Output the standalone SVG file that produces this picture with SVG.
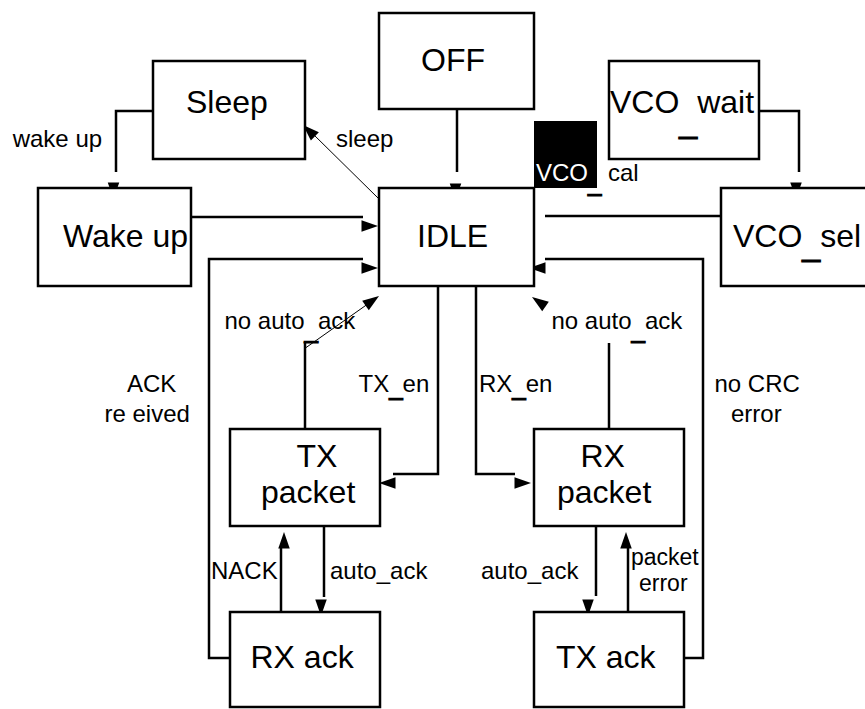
<svg xmlns="http://www.w3.org/2000/svg" width="865" height="709" viewBox="0 0 865 709">
<style>
  .box { fill: #fff; stroke: #000; stroke-width: 2.5; }
  .wire { fill: none; stroke: #000; stroke-width: 2.5; }
  .thin { fill: none; stroke: #000; stroke-width: 1; }
  .big { font-family: "Liberation Sans", Arial, sans-serif; font-size: 32px; fill: #000; }
  .lbl { font-family: "Liberation Sans", Arial, sans-serif; font-size: 24px; fill: #000; }
  .us { stroke: #000; stroke-width: 1.2; }
  .ah { fill: #000; }
</style>
<defs>
  <path id="ah" class="ah" d="M0,0 L-16.5,-5.75 L-16.5,5.75 Z"/>
</defs>
<rect width="865" height="709" fill="#fff"/>

<g id="connectors">
  <g id="e-sleep-wakeup">
    <polyline class="wire" points="153,111 116,111 116,172"/>
    <use href="#ah" transform="translate(113.5,199) rotate(90)"/>
    <text class="lbl" x="12.7" y="147">wake up</text>
  </g>
  <g id="e-idle-sleep">
    <line class="thin" x1="378" y1="198" x2="312" y2="133"/>
    <use href="#ah" transform="translate(303,125) rotate(224)"/>
    <text class="lbl" x="336" y="147">sleep</text>
  </g>
  <g id="e-wakeup-idle">
    <line class="wire" x1="191" y1="217" x2="363" y2="217"/>
    <use href="#ah" transform="translate(378,226)"/>
  </g>
  <g id="e-rxack-idle">
    <polyline class="wire" points="230,658 209,658 209,259 363,259"/>
    <use href="#ah" transform="translate(378,268)"/>
    <text class="lbl" x="127" y="392">ACK</text>
    <text class="lbl" x="104.5" y="422">re eived</text>
  </g>
  <g id="e-off-idle">
    <line class="wire" x1="457" y1="109" x2="457" y2="172"/>
    <use href="#ah" transform="translate(455.5,200) rotate(90)"/>
  </g>
  <g id="e-vcowait-vcosel">
    <polyline class="wire" points="759,111 799,111 799,172"/>
    <use href="#ah" transform="translate(796,199) rotate(90)"/>
  </g>
  <g id="e-vcosel-idle">
    <line class="wire" x1="545" y1="216" x2="721" y2="216"/>
  </g>
  <g id="e-txack-idle">
    <polyline class="wire" points="684,658 703,658 703,259 545,259"/>
    <use href="#ah" transform="translate(529,268) rotate(180)"/>
    <text class="lbl" x="714.5" y="392">no CRC</text>
    <text class="lbl" x="731" y="422">error</text>
  </g>
  <g id="e-txpacket-idle">
    <line class="wire" x1="305" y1="429" x2="305" y2="342"/>
    <line class="thin" x1="304" y1="349" x2="372" y2="301"/>
    <use href="#ah" transform="translate(379,296) rotate(-35)"/>
    <text class="lbl" x="224.5" y="329">no auto<tspan class="us" dy="9">_</tspan><tspan dy="-9">ack</tspan></text>
  </g>
  <g id="e-rxpacket-idle">
    <line class="wire" x1="609" y1="429" x2="609" y2="343"/>
    <use href="#ah" transform="translate(532,297) rotate(215)"/>
    <text class="lbl" x="551.5" y="329">no auto<tspan class="us" dy="9">_</tspan><tspan dy="-9">ack</tspan></text>
  </g>
  <g id="e-idle-txpacket">
    <polyline class="wire" points="438,286 438,474 393,474"/>
    <use href="#ah" transform="translate(379,483) rotate(180)"/>
    <text class="lbl" x="358.5" y="392">TX<tspan class="us" dy="3">_</tspan><tspan dy="-3">en</tspan></text>
  </g>
  <g id="e-idle-rxpacket">
    <polyline class="wire" points="476,286 476,474 515,474"/>
    <use href="#ah" transform="translate(531,483)"/>
    <text class="lbl" x="479" y="392">RX<tspan class="us" dy="3">_</tspan><tspan dy="-3">en</tspan></text>
  </g>
  <g id="e-txpacket-rxack">
    <line class="wire" x1="324" y1="526" x2="324" y2="597"/>
    <use href="#ah" transform="translate(321,616) rotate(90)"/>
    <text class="lbl" x="330" y="579">auto_ack</text>
  </g>
  <g id="e-rxack-txpacket">
    <line class="wire" x1="281" y1="612" x2="281" y2="547"/>
    <use href="#ah" transform="translate(284,532) rotate(-90)"/>
    <text class="lbl" x="211" y="579">NACK</text>
  </g>
  <g id="e-rxpacket-txack">
    <line class="wire" x1="596" y1="526" x2="596" y2="596"/>
    <use href="#ah" transform="translate(588,616) rotate(90)"/>
    <text class="lbl" x="481" y="579">auto_ack</text>
  </g>
  <g id="e-txack-rxpacket">
    <line class="wire" x1="628" y1="612" x2="628" y2="547"/>
    <use href="#ah" transform="translate(626,532) rotate(-90)"/>
    <text class="lbl" x="631" y="565" style="font-size:23px">packet</text>
    <text class="lbl" x="639" y="591" style="font-size:23px">error</text>
  </g>
</g>

<g id="node-off">
  <rect class="box" x="379" y="13" width="155" height="96"/>
  <text class="big" x="421" y="71">OFF</text>
</g>
<g id="node-sleep">
  <rect class="box" x="153" y="61" width="152" height="98"/>
  <text class="big" x="186" y="113">Sleep</text>
</g>
<g id="node-wakeup">
  <rect class="box" x="38" y="188" width="153" height="98"/>
  <text class="big" x="63" y="247">Wake up</text>
</g>
<g id="node-idle">
  <rect class="box" x="379" y="188" width="155" height="98"/>
  <text class="big" x="417" y="247">IDLE</text>
</g>
<g id="node-vcowait">
  <rect class="box" x="609" y="61" width="150" height="98"/>
  <text class="big" x="610" y="113">VCO<tspan class="us" dy="20">_</tspan><tspan dy="-20">wait</tspan></text>
</g>
<g id="node-vcocal">
  <rect x="534" y="121" width="63" height="67" fill="#000"/>
  <text class="lbl" x="536" y="181"><tspan fill="#fff">VCO</tspan><tspan class="us" dy="10">_</tspan><tspan x="608" dy="-10">cal</tspan></text>
</g>
<g id="node-vcosel">
  <rect class="box" x="721" y="188" width="160" height="98"/>
  <text class="big" x="733" y="247">VCO<tspan class="us" dy="9">_</tspan><tspan dy="-9">sel</tspan></text>
</g>
<g id="node-txpacket">
  <rect class="box" x="230" y="429" width="150" height="97"/>
  <text class="big" x="296.5" y="467">TX</text>
  <text class="big" x="261" y="503">packet</text>
</g>
<g id="node-rxpacket">
  <rect class="box" x="534" y="429" width="150" height="97"/>
  <text class="big" x="580.5" y="467">RX</text>
  <text class="big" x="557" y="503">packet</text>
</g>
<g id="node-rxack">
  <rect class="box" x="230" y="612" width="150" height="95"/>
  <text class="big" x="250.5" y="668">RX ack</text>
</g>
<g id="node-txack">
  <rect class="box" x="534" y="612" width="150" height="95"/>
  <text class="big" x="556" y="668">TX ack</text>
</g>
</svg>
